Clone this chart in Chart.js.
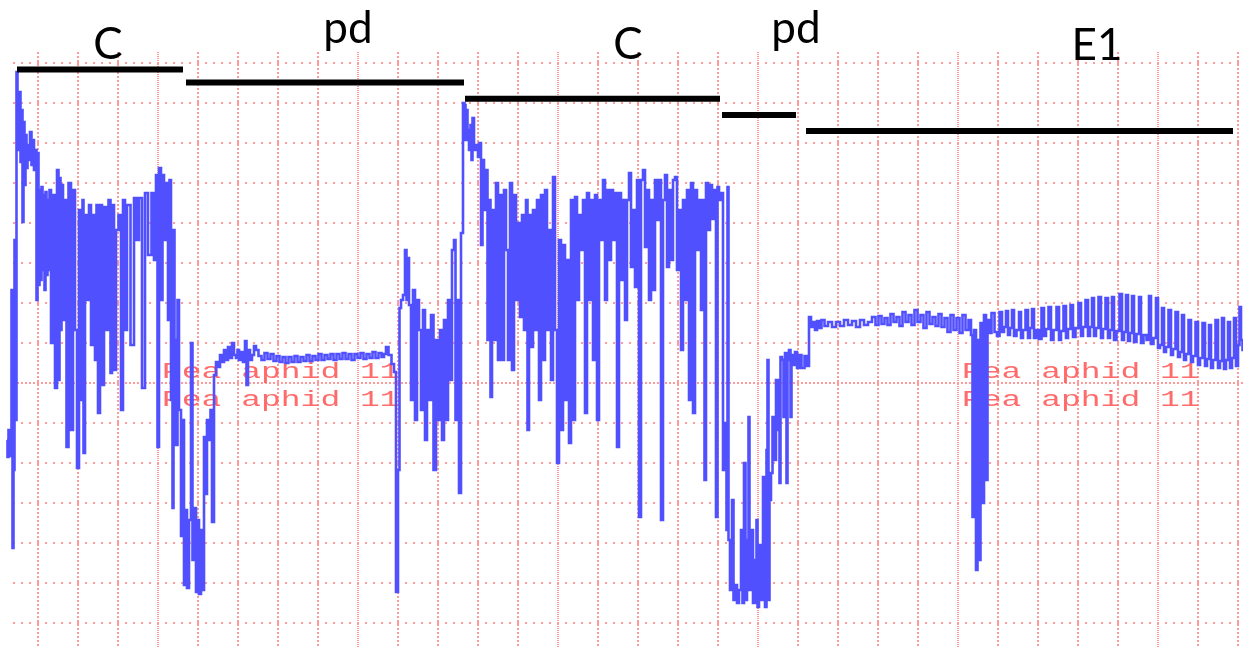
<!DOCTYPE html>
<html><head><meta charset="utf-8">
<script src="https://cdn.jsdelivr.net/npm/chart.js@4"></script>
<style>html,body{margin:0;padding:0;background:#fff}#wrap{width:1243px;height:648px;position:relative}</style>
</head><body><div id="wrap"><canvas id="c"></canvas></div>
<script>
// EPG recording: [time (s), signal] pairs, one array per waveform phase
const phaseC1 = [[2.25,-14.25],[2.5,-18.5],[2.75,-11.75],[3,-18.25],[3.25,-12.75],[3.5,23.25],[3.75,-41.25],[4,-21.75],[4.25,35.75],[4.5,-9.25],[4.75,77.75],[5,71.25],[5.25,58.25],[5.5,72.75],[5.75,55.25],[6,68.25],[6.25,40.25],[6.5,65.25],[6.75,49.5],[7,62],[7.25,53.75],[7.5,59.5],[7.75,55.75],[8.25,62.75],[8.5,54.5],[8.75,60.75],[9.25,53.25],[9.5,58.25],[9.75,20.75],[10,57.5],[10.25,24.5],[10.5,48.25],[10.75,25.75],[11,49],[11.25,28.25],[11.5,47],[11.75,23.25],[12,47.75],[12.25,27],[12.5,45.75],[12.75,28.25],[13,48.25],[13.5,10],[14,47],[14.5,-1.25],[15,53.25],[15.25,0.75],[15.5,51.25],[15.75,13.25],[16,49.5],[16.5,15.75],[17,45.75],[17.25,-16],[18,50],[18.5,-11.75],[19,48.25],[19.5,13.25],[20,-21.25],[20.5,43.25],[21,-4.25],[21.25,45.75],[21.5,-17.5],[22,42],[22.5,20.75],[23,44.5],[23.5,9.5],[24,42],[24.5,5.75],[24.75,44.5],[25.25,-7.5],[25.75,44.5],[26.25,-0.5],[26.75,44],[27.25,13.25],[28,45.75],[28.25,2.5],[28.75,44.5],[29.25,3.25],[29.75,38.25],[30.5,42],[31,-6.75],[31.5,45.75],[32,13.25],[32.5,44.5],[33.75,9.5],[34.25,46.25],[35,35.75],[35.5,46.25],[36.5,-1.25],[37,47.5],[38,32],[38.75,47.5],[39.25,30.75],[39.75,52],[40,-16],[40.5,53.75],[41,20.75],[41.25,52],[41.75,35.75],[42.25,50],[42.75,15.75],[43,50.75],[43.5,-4.25],[43.75,-31.25],[44,38.25],[44.25,10.75],[44.75,-15.5],[45,20.75],[45.5,-6.75],[46,-38.25],[46.25,-9.25],[46.75,-50.5]];
const phasePd1 = [[47,-31.75],[47.5,-51.25],[48,-34.25],[48.5,10],[48.75,-44.25],[49.25,-31.25],[49.75,-52.25],[50,-34.25],[50.5,-52.75],[51,-36.75],[51.25,-51.75],[51.75,-13.5],[52,-27.75],[52.5,-9.25],[53,-14.25],[53.25,-6.75],[53.75,-34.75],[54.25,2],[54.75,5.25],[55.25,4],[55.75,7],[56.25,5.25],[56.75,8.25],[57.25,5.75],[57.75,9],[58.25,6.25],[58.75,10],[59.25,7],[59.75,6.25],[60,8.25],[60.5,5.75],[61,7.75],[61.5,5.25],[62,10.5],[62.25,-0.5],[62.75,8.25],[63.25,5.75],[63.75,7],[64.25,9.25],[64.75,8.25],[65.5,6.75],[66.25,5.75],[67,7.5],[67.75,6],[68.5,7.25],[69.25,5.5],[70,6.75],[70.75,5.25],[71.5,6.5],[72.25,5],[73,6.5],[73.75,5.25],[74.5,6.75],[75.25,5.25],[76,6.5],[76.75,5.5],[77.5,7],[78.25,5.5],[79,6.75],[79.75,5.75],[80.5,7.25],[81.25,5.75],[82,7],[82.75,6],[83.5,7.25],[84.25,5.75],[85,7.25],[85.75,6],[86.5,7.5],[87.25,6],[88,7.25],[88.75,5.75],[89.5,7.25],[90.25,6.25],[91,7.5],[91.75,6],[92.5,7.25],[93.25,6.25],[94,7.75],[94.75,6.25],[95.5,7.5],[96.25,6.5],[96.75,7.25],[97.25,9],[98,7],[98.75,4.75],[99.25,2.75],[99.75,-52.25],[100.25,-21.75],[100.5,18.75],[101,20.75],[101.5,22],[102,33.25],[102.25,20.75],[102.5,31.25],[103,19.5],[103.5,-4.25],[104,23.25],[104.5,-9.25],[105,20.75],[105.5,13.25],[106,-6.75],[106.5,18.25],[107,-14.25],[107.5,13.25],[108,-4.25],[108.5,17],[109.25,-21.75],[109.75,10.75],[110.25,-9.25],[110.75,13.25],[111.25,-14.25],[111.75,15.75],[112.25,-9.25],[112.75,20.75],[113.25,0.75],[113.75,33.25],[114.25,35.75],[114.5,-9.25],[115,20.75],[115.5,-27.5],[116,37.5],[116.5,70]];
const phaseC2 = [[116.75,69.5],[117,60.75],[117.25,68.25],[117.5,63.25],[118,58.25],[118.25,64.5],[118.5,55.75],[118.75,66.25],[119.25,58.25],[119.75,59.5],[120.25,56.5],[120.5,60],[121,34.5],[121.25,55.75],[121.75,43.25],[122.25,53.25],[122.5,10.75],[123,45.75],[123.25,-3.5],[123.75,43.25],[124.25,10.75],[124.75,50],[125.25,5.75],[125.75,47],[126.25,5.75],[126.75,48.25],[127.25,33.25],[127.75,5.75],[128.25,50],[128.75,3.25],[129.25,47],[129.75,20.75],[130.25,40],[130.75,16.5],[131.25,42],[131.75,13.25],[132.25,45.75],[132.5,-11.75],[133,42],[133.5,9],[134,43.25],[134.5,13.25],[135,45.75],[135.5,-4.25],[136,47],[136.5,5.75],[137,48.25],[137.5,13.25],[138,38.25],[138.5,0.75],[139,51.5],[139.5,13.25],[140,-20],[140.5,35.75],[141,-11.75],[141.5,34.5],[142,-4.25],[142.5,30.75],[143,-15],[143.5,45.75],[144,-9.25],[144.5,46.5],[145,20.75],[145.5,42],[146,33.25],[146.5,45.75],[147,-7.5],[147.5,47.5],[148,20.75],[148.5,45.75],[149,5.75],[149.5,47],[150,-9.25],[150.5,45.75],[151,35.75],[151.5,50.75],[152,20.75],[152.5,48.25],[153,30.75],[153.5,48.25],[154,35.75],[154.5,47.5],[155,-16],[155.5,47.5],[156,25.75],[156.5,45.75],[157,15.75],[157.5,45.75],[158,52.5],[158.5,29],[159,43.25],[159.5,24],[160,50.75],[160.5,-33.5],[161,50.75],[161.5,53.25],[162,34],[162.5,48.25],[163,20.75],[163.5,45.75],[164,23.25],[164.5,50.75],[165,40.75],[165.5,50.75],[166,-34.25],[166.5,45.75],[167,52],[167.5,29],[168,48.25],[168.5,30.75],[169,50.75],[169.5,51.5],[170,28.25],[170.5,43.25],[171,8.25],[171.5,45.75],[172,20.75],[172.5,48.25],[173,-4.25],[173.5,50],[174,-7.5],[174.5,48.25],[175,33.25],[175.5,45.75],[176,18.25],[176.5,45.75],[176.75,-24.25],[177.25,50],[177.75,38.25],[178.25,49.5],[178.75,41],[179.25,48.25],[179.75,-33.5],[180,49],[180.5,45.75],[181,47.5],[181.5,-21.75],[182,-10]];
const phasePd2 = [[182.25,-36.75],[182.5,49],[182.75,-39.25],[183.25,-51.75],[183.75,-29.25],[184,-54.25],[184.5,-50.5],[185,-55],[185.5,-51.75],[186,-36.75],[186.25,-55],[186.75,-20],[187,-54.25],[187.5,-39.25],[187.75,-8.5],[188,-51.75],[188.5,-36.75],[189,-55],[189.5,-44.25],[189.75,-34.25],[190,-56],[190.5,-40.5],[191,-54.25],[191.5,-23.5],[192,-56],[192.25,-16.75],[192.5,5.75],[192.75,-54.25],[193,-29.25],[193.5,-22.5],[193.75,-8.5],[194.25,-19.25],[194.75,0.75],[195.25,-11.75],[195.5,-25],[195.75,6.5],[196.25,5.75],[196.5,-8.5],[197,7.5],[197.25,-25],[197.5,5.75],[198,8.25],[198.25,-8.5],[198.5,7],[199,4.5],[199.5,7.75],[200,3.75],[200.5,7],[201.25,3.75],[202,6.75],[202.5,4.25]];
const phaseE1 = [[203,16.5],[203.5,14],[204,15.25],[204.5,13.25],[205,15.5],[205.5,13.75],[206.25,15.75],[207,14.25],[208,15.25],[209,14],[210,15.25],[211,14.25],[212,15.75],[213,14.5],[214,15.5],[215,14],[216,15.75],[217,14.5],[218,15.25],[219,16.5],[219.75,14.5],[220.5,16.75],[221.25,14.75],[222,16.25],[222.75,14.5],[223.5,17.25],[224.25,15.25],[225,16.5],[225.75,14.25],[226.5,17.75],[227.25,15.25],[228,17],[228.75,14.5],[229.5,18.25],[230.25,15.25],[231,17],[231.75,13.75],[232.5,17.75],[233.25,14.75],[234,16.5],[234.75,14.25],[235.5,17.25],[236.25,14],[237,16.25],[237.75,12.75],[238.5,17],[239.25,13.25],[240,16.25],[240.75,12.5],[241.5,17],[242.25,13.25],[243,15.75],[243.5,12],[243.75,-33.5],[244.25,13.25],[244.75,-46.75],[245,10.75],[245.5,-44.25],[245.75,15],[246.25,-30],[246.75,17],[247.25,-24.25],[247.5,15.75],[248,12.5],[248.75,17.5],[249.5,12.75],[250,11.75],[250.75,17.75],[251.25,12.75],[251.75,14],[252.25,18],[252.75,12],[253.25,13.75],[253.75,18.25],[254.25,11.75],[255,13.25],[255.5,17.75],[256,11.25],[256.5,13.25],[257.25,18.25],[257.75,11.25],[258.25,13.75],[258.75,18.5],[259.25,11.25],[260,13.25],[260.5,11],[261.25,18.75],[261.75,11.75],[262.25,13.5],[263,19],[263.5,10.75],[264.25,13.25],[265,19],[265.5,10.75],[266,13],[266.75,19.25],[267.25,11.25],[267.75,13.5],[268.5,19.5],[269,11.5],[269.75,13.75],[270.5,20],[271,11.75],[271.5,14],[272.25,20.75],[272.75,11.75],[273.25,14],[273.75,21.25],[274.25,11.75],[274.75,13.75],[275.5,21.5],[276,11.25],[276.5,13.5],[277.25,21.25],[277.75,11.25],[278.25,13.25],[278.75,21.5],[279.25,10.75],[280,13],[280.75,22.25],[281.25,10.75],[281.75,12.75],[282.25,22],[282.75,10.5],[283.25,12.5],[283.75,21.75],[284.25,10.25],[285,12.25],[285.5,21.5],[286,10],[286.75,12],[287.5,10.75],[288,21.75],[288.5,9.75],[289.25,11.25],[289.75,21.25],[290.25,8.75],[290.75,9.5],[291.25,18.75],[291.75,7.75],[292.25,9],[293,18.25],[293.5,7],[294,8.5],[294.75,17.75],[295.25,6.5],[295.75,7.75],[296.25,17],[296.75,5.75],[297.25,7.25],[298,15.75],[298.5,5.25],[299,6.75],[299.75,15.25],[300.25,4.5],[300.75,6.25],[301.5,15],[302,4.25],[302.5,6],[303,14.5],[303.5,3.75],[304,5.75],[304.75,15.75],[305.25,3.75],[305.75,5.5],[306.25,16.25],[306.75,3.5],[307.25,5.75],[307.75,15.25],[308.25,3.75],[308.75,6.25],[309.25,16.25],[309.75,4.25],[310.25,9.5],[310.5,19],[311,10.75],[311.25,8.25]];

// phase annotation bars and their labels
const phaseNames = ['C','pd','C','pd','E1'];
const phaseStart = [4.75, 47, 116.75, 181, 202];
const phaseEnd = [46.25, 116.5, 180.5, 199.5, 308.75];
const phaseBarLevel = [78.4, 75.1, 71.05, 67, 63];
const phaseNameTime = [27.5, 87.5, 157.5, 199.5, 274.75];
const phaseNameLevel = [81, 85, 81, 85, 80.75];

// recorder channel captions
const channelText = ['Pea aphid 11','Pea aphid 11','Pea aphid 11','Pea aphid 11'];
const channelTime = [41, 41, 241, 241];
const channelLevel = [1.25, -5.75, 1.25, -5.75];

// axes
const timeRange = [3.75, 311.25];
const signalRange = [-66.25, 82.75];
const timeTicks = [10,20,30,40,50,60,70,80,90,100,110,120,130,140,150,160,170,180,190,200,210,220,230,240,250,260,270,280,290,300,310];
const timeMajorTicks = [40,90,140,190,240,290];
const signalTicks = [-60,-50,-40,-30,-20,-10,0,10,20,30,40,50,60,70,80];

const trace = [...phaseC1, ...phasePd1, ...phaseC2, ...phasePd2, ...phaseE1].map(([x, y]) => ({x, y}));

const barSets = phaseNames.map((n, i) => ({
  label: n,
  data: [{x: phaseStart[i], y: phaseBarLevel[i]}, {x: phaseEnd[i], y: phaseBarLevel[i]}],
  borderColor: '#000', borderWidth: 6, borderCapStyle: 'butt',
  pointRadius: 0, clip: false, order: 0
}));

const annotate = {
  id: 'annotate',
  beforeDatasetsDraw(chart) {
    const {ctx, scales: {x, y}} = chart;
    ctx.save();
    ctx.fillStyle = '#ff6a6a';
    ctx.font = '22px "Liberation Mono", "DejaVu Sans Mono", monospace';
    ctx.textBaseline = 'alphabetic';
    channelText.forEach((s, i) => {
      ctx.save();
      ctx.translate(x.getPixelForValue(channelTime[i]), y.getPixelForValue(channelLevel[i]));
      ctx.scale(1.5, 1);
      ctx.fillText(s, 0, 0);
      ctx.restore();
    });
    ctx.restore();
  },
  afterDatasetsDraw(chart) {
    const {ctx, scales: {x, y}} = chart;
    ctx.save();
    ctx.fillStyle = '#000';
    ctx.font = '44px Lato, "Open Sans", sans-serif';
    ctx.textAlign = 'center';
    ctx.textBaseline = 'alphabetic';
    phaseNames.forEach((n, i) => {
      ctx.fillText(n, x.getPixelForValue(phaseNameTime[i]), y.getPixelForValue(phaseNameLevel[i]));
    });
    ctx.restore();
  }
};

const gridColor = '#ff9a9a';
new Chart(document.getElementById('c'), {
  type: 'line',
  data: {
    datasets: [
      { label: 'signal', data: trace, borderColor: '#5050ff', borderWidth: 2.6, pointRadius: 0,
        stepped: 'middle', clip: false, order: 1, borderJoinStyle: 'miter' },
      ...barSets
    ]
  },
  options: {
    animation: false, responsive: true, maintainAspectRatio: false, events: [],
    layout: { padding: { left: 13, top: 52, right: 0, bottom: 0 } },
    plugins: { legend: { display: false }, tooltip: { enabled: false } },
    scales: {
      x: {
        type: 'linear', bounds: 'data',
        afterDataLimits(s) { s.min = timeRange[0]; s.max = timeRange[1]; },
        afterBuildTicks(s) { s.ticks = timeTicks.map(v => ({value: v})); },
        ticks: { display: false },
        grid: { color: gridColor, lineWidth: 2, drawTicks: false },
        border: { display: false, dash: c => (c.tick && timeMajorTicks.includes(c.tick.value)) ? [1, 1] : [2, 2] }
      },
      y: {
        type: 'linear', bounds: 'data',
        afterDataLimits(s) { s.min = signalRange[0]; s.max = signalRange[1]; },
        afterBuildTicks(s) { s.ticks = signalTicks.map(v => ({value: v})); },
        ticks: { display: false },
        grid: { color: gridColor, lineWidth: 2, drawTicks: false },
        border: { display: false, dash: c => (c.tick && c.tick.value === 0) ? [2, 2] : [2, 6] }
      }
    }
  },
  plugins: [annotate]
});
</script></body></html>
